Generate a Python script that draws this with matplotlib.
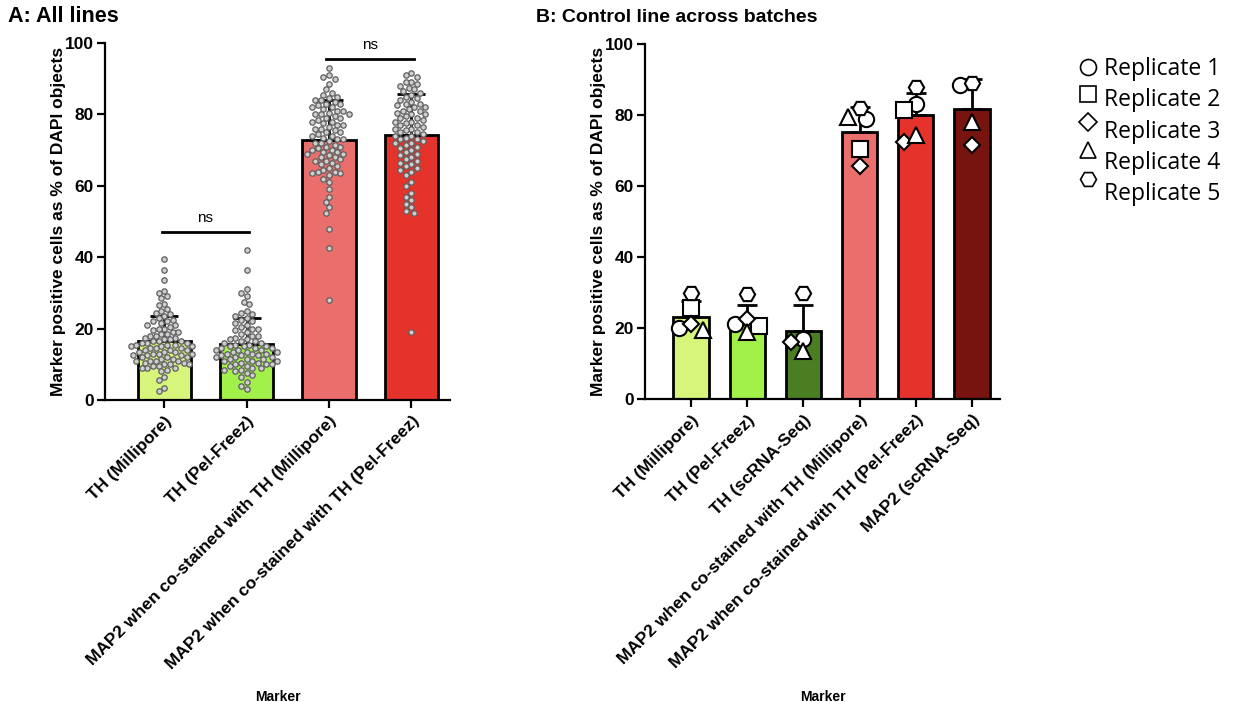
import numpy as np
import matplotlib
matplotlib.use("Agg")
import matplotlib.pyplot as plt
from matplotlib.lines import Line2D

plt.rcParams["font.family"] = ["Liberation Sans", "DejaVu Sans"]

# ---- panel A: all lines, one value per well ----
cats_a = ["TH (Millipore)", "TH (Pel-Freez)",
          "MAP2 when co-stained with TH (Millipore)",
          "MAP2 when co-stained with TH (Pel-Freez)"]
colors_a = ["#d6f57a", "#a2f04a", "#ea6e6c", "#e5322a"]

th_millipore = [39.5, 36.5, 33.5, 30.5, 30, 29, 28.5, 27, 26.5, 25.5, 25, 24.5, 24, 23.5,
                23, 22.5, 22, 22, 21.5, 21, 21, 20.5, 20, 20, 19.5, 19, 19, 18.5, 18.5, 18,
                18, 17.5, 17.5, 17, 17, 16.5, 16.5, 16.5, 16, 16, 16, 15.5, 15.5, 15.5, 15,
                15, 15, 14.5, 14.5, 14.5, 14, 14, 14, 13.5, 13.5, 13.5, 13, 13, 13, 12.5,
                12.5, 12.5, 12, 12, 12, 11.5, 11.5, 11, 11, 11, 11, 10.5, 10.5, 10, 10, 10,
                9.5, 9.5, 9, 9, 9, 8.5, 8, 6.5, 5.5, 3.5, 2.5]
th_pelfreez = [42, 36.5, 31, 30, 29, 27.5, 27, 25, 24.5, 24, 23.5, 23, 22.5, 22, 21.5, 21,
               20.5, 20, 20, 19.5, 19, 18.5, 18, 18, 17.5, 17, 17, 16.5, 16.5, 16, 16, 15.5,
               15.5, 15, 15, 15, 14.5, 14.5, 14.5, 14, 14, 14, 13.5, 13.5, 13.5, 13, 13, 13,
               12.5, 12.5, 12.5, 12, 12, 12, 11.5, 11.5, 11.5, 11, 11, 11, 10.5, 10.5, 10,
               10, 10, 9.5, 9.5, 9, 9, 8.5, 8.5, 8, 7.5, 7, 6.5, 5, 4, 3]
map2_millipore = [93, 91, 90.5, 90, 88.5, 87, 86, 85.5, 85, 84.5, 84, 84, 83.5, 83, 83, 82.5,
                  82, 82, 81.5, 81, 81, 80.5, 80, 80, 80, 79.5, 79, 79, 78.5, 78, 78, 77.5,
                  77, 77, 76.5, 76, 76, 75.5, 75, 75, 74.5, 74, 74, 73.5, 73, 73, 72.5, 72,
                  72, 71.5, 71, 71, 70.5, 70, 70, 69.5, 69.5, 69, 69, 68.5, 68, 68, 67.5, 67,
                  67, 66.5, 66, 65.5, 65, 64.5, 64, 64, 63.5, 63.5, 63, 62, 61, 59, 57, 55.5,
                  54, 52.5, 48, 42.5, 28]
map2_pelfreez = [91.5, 91, 90.5, 89, 89, 88.5, 88, 87.5, 87, 86.5, 86, 85.5, 85, 84.5, 84,
                 83.5, 83, 83, 82.5, 82, 82, 81.5, 81, 81, 80.5, 80, 80, 79.5, 79, 79, 78.5,
                 78, 78, 77.5, 77, 77, 76.5, 76, 76, 75.5, 75, 75, 74.5, 74, 74, 73.5, 73, 73,
                 72.5, 72, 72, 71.5, 71, 70.5, 70, 69.5, 69, 68.5, 68, 67.5, 67, 66.5, 66,
                 65.5, 65, 64.5, 64, 63, 61, 60, 58, 57, 56, 55, 54, 53, 52.5, 19]
series_a = [th_millipore, th_pelfreez, map2_millipore, map2_pelfreez]

# ---- panel B: control line, replicate means ----
cats_b = ["TH (Millipore)", "TH (Pel-Freez)", "TH (scRNA-Seq)",
          "MAP2 when co-stained with TH (Millipore)",
          "MAP2 when co-stained with TH (Pel-Freez)", "MAP2 (scRNA-Seq)"]
colors_b = ["#d6f57a", "#a2f04a", "#4b7d23", "#ea6e6c", "#e5322a", "#78140f"]

rep_names = ["Replicate 1", "Replicate 2", "Replicate 3", "Replicate 4", "Replicate 5"]
rep_markers = ["o", "s", "D", "^", "H"]
nan = np.nan
rep1 = [20, 21, 17, 79, 83, 88.5]
rep2 = [25.5, 20.5, nan, 70.5, 81.5, nan]
rep3 = [21, 22.5, 16, 65.5, 72.5, 71.5]
rep4 = [19.5, 19, 13.5, 79.5, 74.5, 78]
rep5 = [30, 29.5, 30, 82, 88, 89]
reps = [rep1, rep2, rep3, rep4, rep5]

W, H = 1233, 702
fig = plt.figure(figsize=(W / 100, H / 100), dpi=100)


def swarm_x(ax, x0, values, diam, step):
    """Beeswarm offsets (data units), placing from the top value down."""
    pts = ax.transData.transform(np.column_stack([np.full(len(values), x0), values]))
    xc, ys = pts[0, 0], pts[:, 1]
    cands = [0.0]
    for k in range(1, 60):
        cands += [-k * step, k * step]
    placed = []
    out = np.zeros(len(values))
    for i in np.argsort(-ys, kind="stable"):
        for dx in cands:
            if all((dx - px) ** 2 + (ys[i] - py) ** 2 >= diam ** 2 for px, py in placed):
                break
        placed.append((dx, ys[i]))
        out[i] = ax.transData.inverted().transform((xc + dx, ys[i]))[0]
    return out


def style_axes(ax, cats, ylab_x):
    ax.set_ylim(0, 100)
    ax.set_yticks(range(0, 101, 20))
    ax.set_xticks(range(len(cats)))
    ax.set_xticklabels(cats, rotation=45, ha="right", rotation_mode="anchor",
                       fontsize=12.5, fontweight="bold")
    for s in ["top", "right"]:
        ax.spines[s].set_visible(False)
    for s in ["left", "bottom"]:
        ax.spines[s].set_linewidth(1.6)
    ax.tick_params(axis="both", width=1.6, length=6)
    ax.tick_params(axis="y", labelsize=12.5, pad=2)
    for lab in ax.get_yticklabels():
        lab.set_fontweight("bold")
    ax.set_ylabel("Marker positive cells as % of DAPI objects", fontsize=12.5,
                  fontweight="bold")
    ax.yaxis.set_label_coords(ylab_x, 0.5)
    ax.set_xlabel("Marker", fontsize=10, fontweight="bold")


# ---- Panel A ----
axA = fig.add_axes([105 / W, 1 - 400 / H, 345 / W, 357 / H])
axA.set_xlim(-0.72, 3.47)
axA.set_ylim(0, 100)
means_a = [np.mean(v) for v in series_a]
sds_a = [np.std(v, ddof=1) for v in series_a]
xa = np.arange(len(cats_a))
axA.bar(xa, means_a, width=0.65, color=colors_a, edgecolor="black", linewidth=2, zorder=2)
axA.errorbar(xa, means_a, yerr=[np.zeros(len(xa)), sds_a], fmt="none", ecolor="black",
             elinewidth=2, capsize=10, capthick=2, zorder=3)
for i, vals in enumerate(series_a):
    xs = swarm_x(axA, i, vals, diam=5.6, step=2.8)
    axA.scatter(xs, vals, s=15, facecolor="#cfcfcf", edgecolor="#5e5e5e",
                linewidth=0.9, zorder=4)
for (x1, x2, y) in [(0, 1, 47), (2, 3, 95.5)]:
    axA.plot([x1 - 0.03, x2 + 0.03], [y, y], color="black", lw=2, clip_on=False)
    axA.text((x1 + x2) / 2, y + 2, "ns", ha="center", va="bottom", fontsize=11,
             clip_on=False)
style_axes(axA, cats_a, (66 - 105) / 345)
axA.xaxis.set_label_coords(0.5, (400 - 690) / 357)
fig.text(8 / W, 1 - 17 / H, "A: All lines", fontsize=15.5, fontweight="bold", va="center")

# ---- Panel B ----
axB = fig.add_axes([645 / W, 1 - 399 / H, 355 / W, 355 / H])
axB.set_xlim(-0.82, 5.5)
axB.set_ylim(0, 100)
rep_arr = np.array(reps, dtype=float)
means_b = np.nanmean(rep_arr, axis=0)
sds_b = np.nanstd(rep_arr, axis=0, ddof=1)
xb = np.arange(len(cats_b))
axB.bar(xb, means_b, width=0.63, color=colors_b, edgecolor="black", linewidth=2, zorder=2)
axB.errorbar(xb, means_b, yerr=[np.zeros(len(xb)), sds_b], fmt="none", ecolor="black",
             elinewidth=2, capsize=7, capthick=2, zorder=3)
for j in range(len(cats_b)):
    col = rep_arr[:, j]
    ok = ~np.isnan(col)
    xs = swarm_x(axB, j, col[ok], diam=12, step=6)
    for xv, yv, mk in zip(xs, col[ok], np.array(rep_markers)[ok]):
        axB.plot(xv, yv, marker=mk, ms=11 if mk != "D" else 8.5, mfc="white",
                 mec="black", mew=1.5, zorder=4, clip_on=False)
style_axes(axB, cats_b, (606 - 645) / 355)
axB.xaxis.set_label_coords(0.5, (399 - 690) / 355)
fig.text(536 / W, 1 - 17 / H, "B: Control line across batches", fontsize=14,
         fontweight="bold", va="center")

# ---- replicate key ----
mk_dy = [2, 6, 10, 13, 15]
for i, (name, mk) in enumerate(zip(rep_names, rep_markers)):
    ty = 69 + 31.3 * i
    fig.add_artist(Line2D([1088 / W], [1 - (ty - mk_dy[i]) / H], marker=mk,
                          ms=11.5 if mk != "D" else 9, mfc="white", mec="black", mew=1.2,
                          linestyle="none"))
    fig.text(1104 / W, 1 - ty / H, name, fontsize=16.5, va="center",
             family=["Open Sans", "DejaVu Sans"])

fig.savefig("out.png", dpi=100)
